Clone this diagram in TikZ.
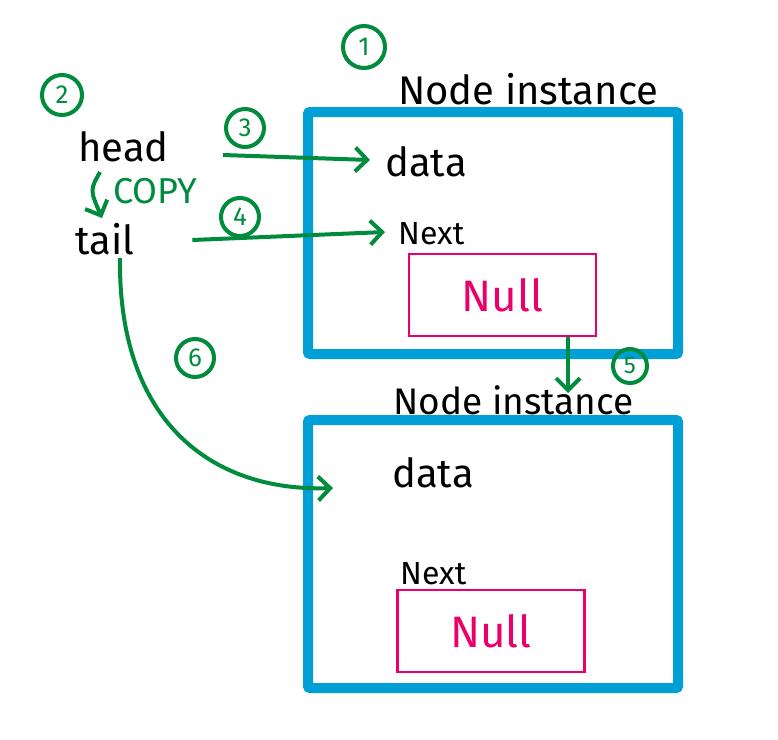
\documentclass[tikz,border=0pt]{standalone}
\usepackage{fontspec}
\setmainfont{Fira Sans}
\usetikzlibrary{arrows.meta}
\definecolor{boxblue}{RGB}{0,160,215}
\definecolor{nullpink}{RGB}{235,0,105}
\definecolor{stepgreen}{RGB}{0,140,60}
\tikzset{>=latex}
\tikzset{
  instbox/.style={draw=boxblue, line width=10pt, rounded corners=2pt, inner sep=0pt},
  nullbox/.style={draw=nullpink, line width=2.5pt, text=nullpink, inner sep=0pt,
    minimum width=187pt, minimum height=82pt, font=\fontsize{44}{46}\selectfont},
  label/.style={anchor=base west, inner sep=0pt, font=\fontsize{40}{42}\selectfont},
  small/.style={anchor=base west, inner sep=0pt, font=\fontsize{32}{34}\selectfont},
  num/.style={circle, draw=stepgreen, line width=4pt, text=stepgreen, inner sep=0pt,
    minimum size=38pt, font=\fontsize{26}{28}\selectfont},
  link/.style={draw=stepgreen, line width=4pt, -{Straight Barb[length=12pt,width=24pt,line width=4pt]}},
}
\begin{document}
\begin{tikzpicture}[x=1pt,y=-1pt]
		\useasboundingbox (0,0) rectangle (778,739);
		% the two instances
		\node[instbox, minimum width=370pt, minimum height=242pt] (inst1) at (493,233) {};
		\node[instbox, minimum width=370pt, minimum height=268pt] (inst2) at (493,554) {};
		\node[label] (title1) at (398,104) {Node instance};
		\node[label, font=\fontsize{37}{39}\selectfont] (title2) at (393,414) {Node instance};
		\node[label] (data1) at (385,176) {data};
		\node[small] (next1) at (398,244) {Next};
		\node[label] (data2) at (392,487) {data};
		\node[small] (next2) at (400,584) {Next};
		\node[nullbox] (null1) at (502.5,295) {Null};
		\node[nullbox] (null2) at (491,631) {Null};
		% pointers
		\node[label] (head) at (78,161) {head};
		\node[label] (tail) at (75,254) {tail};
		\node[small, text=stepgreen, font=\fontsize{36}{38}\selectfont] (copy) at (113,203) {COPY};
		% steps
		\node[num, minimum size=42pt] (s1) at (364,47) {1};
		\node[num, minimum size=40pt] (s2) at (62,95) {2};
		\node[num] (s3) at (245,128) {3};
		\node[num] (s4) at (240,217) {4};
		\node[num, minimum size=34pt, font=\fontsize{24}{26}\selectfont] (s5) at (630,366) {5};
		\node[num] (s6) at (195,358) {6};
		\coordinate (drop) at (568,393);
		\coordinate (hit) at (333,488);
		\draw[link] ([shift={(54,-6)}]head.base east) -- ([shift={(-15,-16)}]data1.base west);
		\draw[link] ([shift={(58,-14)}]tail.base east) -- ([shift={(-13,-12)}]next1.base west);
		\draw[link] ([shift={(22,11)}]head.base west) .. controls (90,190) .. ([shift={(27,-36)}]tail.base west);
		\draw[link] (null1.south -| drop) -- (drop);
		\draw[link] ([shift={(45,4)}]tail.base west) .. controls (118,420) and (210,492) .. (hit);
	\end{tikzpicture}
\end{document}
